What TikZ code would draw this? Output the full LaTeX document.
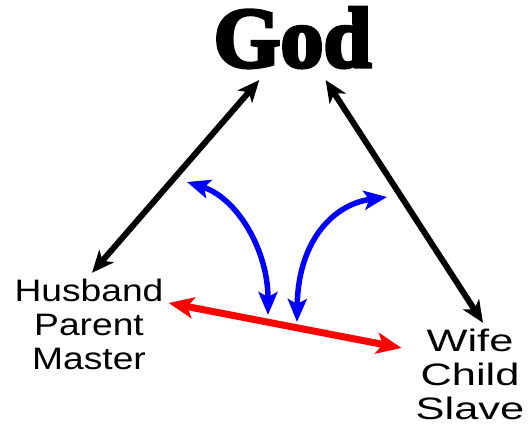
\documentclass[tikz,border=0pt]{standalone}
\usepackage{fontspec}
\setmainfont{Liberation Sans}
\newfontfamily\godfont{Liberation Serif}[BoldFeatures={FakeBold=4}]
\usetikzlibrary{arrows.meta}
\tikzset{
  who/.style={font=\fontsize{31}{34}\selectfont,inner sep=0pt},
  blkrel/.style={line width=6pt,{Stealth[length=22pt,width=19pt,inset=6pt]}-{Stealth[length=22pt,width=19pt,inset=6pt]}},
  redrel/.style={red,line width=7pt,{Stealth[length=25pt,width=21pt,inset=6pt]}-{Stealth[length=25pt,width=21pt,inset=6pt]}},
  bluerel/.style={blue,line width=5.5pt,{Stealth[length=23pt,width=19pt,inset=5pt]}-{Stealth[length=23pt,width=19pt,inset=5pt]}}
}
\begin{document}
\begin{tikzpicture}[x=1pt,y=-1pt]
\useasboundingbox[fill=white] (0,0) rectangle (530,427);
\node[font=\godfont\bfseries\fontsize{86}{86}\selectfont,inner sep=12pt,anchor=base] (god) at (292.5,67) {God};
\node[who] (hpm) at (89,329) {\scalebox{1.2}[1]{\begin{tabular}{@{}c@{}}Husband\\Parent\\Master\end{tabular}}};
\node[who] (wcs) at (470,379) {\scalebox{1.4}[1]{\begin{tabular}{@{}c@{}}Wife\\Child\\Slave\end{tabular}}};
\draw[blkrel] ([shift={(3,-5)}]hpm.north) -- (god.232);
\draw[blkrel] (god.308) -- ([shift={(13,-5)}]wcs.north);
\draw[redrel] ([shift={(5,-26)}]hpm.east) -- ([shift={(-14,-31)}]wcs.west);
\coordinate (lup) at (187,182);
\coordinate (ldown) at (268,315);
\coordinate (rup) at (387,197);
\coordinate (rdown) at (297,322);
\draw[bluerel] (ldown) .. controls (268,250) and (237,198) .. (lup);
\draw[bluerel] (rdown) .. controls (298,245) and (330,205) .. (rup);
\end{tikzpicture}
\end{document}
